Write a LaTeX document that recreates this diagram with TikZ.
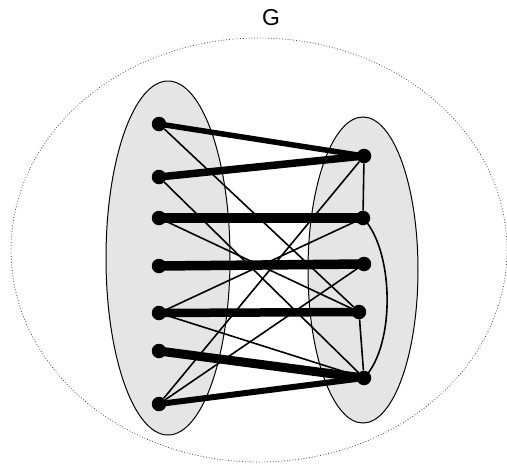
\documentclass[tikz,border=0pt]{standalone}
\usepackage{fontspec}
\setmainfont{Liberation Sans}
\definecolor{setgray}{RGB}{229,229,229}

\begin{document}
\begin{tikzpicture}[x=1pt,y=-1pt,
  every node/.style={font=\fontsize{23}{27}\selectfont},
  vertex/.style={circle,fill=black,inner sep=0pt,minimum size=14.5pt},
  thinedge/.style={line width=1.6pt}]
  \useasboundingbox (0,0) rectangle (507,464);
  \draw[black!70,dotted,line width=0.8pt] (259,250) ellipse [x radius=248,y radius=212];
  \draw[fill=setgray,line width=1pt] (168,258) ellipse [x radius=62,y radius=177];
  \draw[fill=setgray,line width=1pt] (363,270) ellipse [x radius=55,y radius=153];
  \node at (271,18) {G};
  % left part
  \node[vertex] (l1) at (159,124) {};
  \node[vertex] (l2) at (159,177) {};
  \node[vertex] (l3) at (159,218) {};
  \node[vertex] (l4) at (159,266) {};
  \node[vertex] (l5) at (159,313) {};
  \node[vertex] (l6) at (159,351) {};
  \node[vertex] (l7) at (159,404) {};
  % right part
  \node[vertex] (r1) at (364,156) {};
  \node[vertex] (r2) at (363,218) {};
  \node[vertex] (r3) at (364,264) {};
  \node[vertex] (r4) at (359,312) {};
  \node[vertex] (r5) at (364,378) {};
  % heavy edges
  \draw[line width=5.5pt] (l1.center) -- (r1.center);
  \draw[line width=7.5pt] (l2.center) -- (r1.center);
  \draw[line width=9.5pt] (l3.center) -- (r2.center);
  \draw[line width=9.5pt] (l4.center) -- (r3.center);
  \draw[line width=8.5pt] (l5.center) -- (r4.center);
  \draw[line width=9pt] (l6.center) -- (r5.center);
  \draw[line width=6pt] (l7.center) -- (r5.center);
  % light edges
  \draw[thinedge] (l1) -- (r4);
  \draw[thinedge] (l2) -- (r5);
  \draw[thinedge] (l3) -- (r4);
  \draw[thinedge] (l5) -- (r2);
  \draw[thinedge] (l5) -- (r5);
  \draw[thinedge] (l7) -- (r1);
  \draw[thinedge] (l7) -- (r3);
  \draw[thinedge] (r1) -- (r2);
  \draw[thinedge] (r4) -- (r5);
  \draw[thinedge] (r2.center) .. controls (394,250) and (396,345) .. (r5.center);
\end{tikzpicture}
\end{document}
